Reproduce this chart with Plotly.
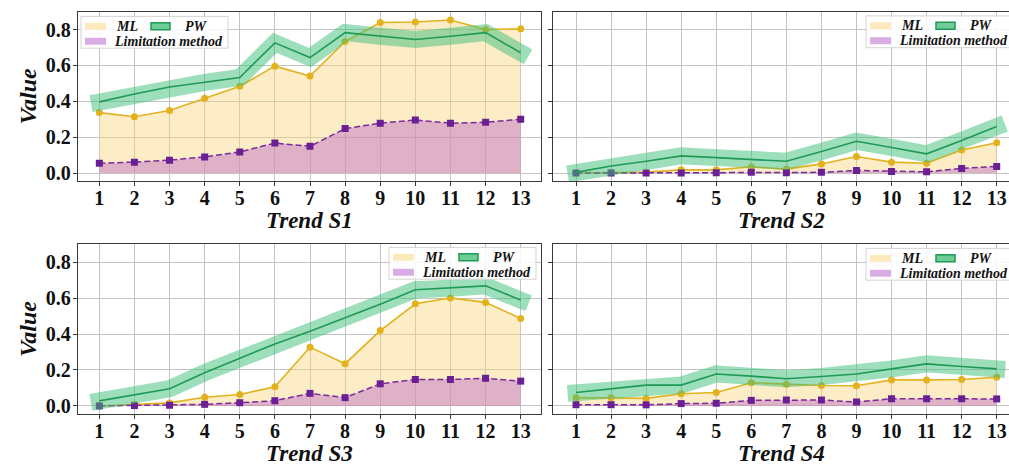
import math
import plotly.graph_objects as go

# ---------------- data ----------------
steps = list(range(1, 14))

ml_s1 = [0.337, 0.314, 0.349, 0.417, 0.484, 0.596, 0.541, 0.734, 0.839, 0.842, 0.853, 0.800, 0.804]
pw_s1 = [0.397, 0.441, 0.480, 0.506, 0.533, 0.726, 0.644, 0.783, 0.763, 0.745, 0.763, 0.783, 0.671]
lim_s1 = [0.055, 0.061, 0.072, 0.090, 0.118, 0.167, 0.149, 0.248, 0.278, 0.296, 0.278, 0.283, 0.300]

ml_s2 = [0.000, 0.002, 0.005, 0.018, 0.018, 0.035, 0.022, 0.051, 0.092, 0.061, 0.055, 0.129, 0.169]
pw_s2 = [0.004, 0.039, 0.066, 0.096, 0.086, 0.077, 0.066, 0.120, 0.177, 0.143, 0.107, 0.182, 0.259]
lim_s2 = [0.000, 0.000, 0.000, 0.000, 0.002, 0.004, 0.002, 0.004, 0.015, 0.009, 0.007, 0.026, 0.037]

ml_s3 = [0.000, 0.009, 0.017, 0.048, 0.064, 0.107, 0.327, 0.235, 0.419, 0.568, 0.601, 0.576, 0.487]
pw_s3 = [0.028, 0.061, 0.096, 0.185, 0.265, 0.345, 0.415, 0.489, 0.566, 0.646, 0.655, 0.668, 0.589]
lim_s3 = [0.000, 0.002, 0.004, 0.009, 0.018, 0.029, 0.070, 0.046, 0.123, 0.147, 0.147, 0.154, 0.138]

ml_s4 = [0.046, 0.046, 0.042, 0.068, 0.075, 0.129, 0.121, 0.114, 0.112, 0.145, 0.145, 0.147, 0.160]
pw_s4 = [0.075, 0.096, 0.116, 0.116, 0.178, 0.166, 0.151, 0.164, 0.178, 0.206, 0.234, 0.219, 0.206]
lim_s4 = [0.007, 0.007, 0.006, 0.013, 0.015, 0.031, 0.033, 0.033, 0.022, 0.040, 0.040, 0.040, 0.039]

titles = ["Trend S1", "Trend S2", "Trend S3", "Trend S4"]
y_ticks = [0.0, 0.2, 0.4, 0.6, 0.8]
y_ticktext = ["0.0", "0.2", "0.4", "0.6", "0.8"]
legend_labels = ["ML", "PW", "Limitation method"]

# ---------------- style / layout ----------------
VIEW_W = 1009
OFF = 0                      # page body margin (removed by post_script)
FW, FH = 1022, 469           # figure size; right edge is cropped by the window
SERIF = "Liberation Serif"
ML_LINE = "#e2b21e"
ML_FILL = "rgba(247,212,120,0.42)"
LIM_LINE = "#7a2a9c"
LIM_MARK = "#6b1f94"
LIM_FILL = "rgba(190,110,200,0.48)"
PW_LINE = "#1f9a55"
PW_BAND = "rgba(60,190,120,0.50)"
GRID = "#c4c4c4"
FRAME = "#3a3a3a"
BAND_W = 17

# panel frames in page pixels: (left, top, right, bottom)
panels = [
    (78, 11.7, 541, 182.3),
    (553, 11.7, 1016, 182.3),
    (78, 245.7, 541, 416.7),
    (553, 245.7, 1016, 416.7),
]
x_ranges = [[0.393, 13.578], [0.344, 13.55], [0.393, 13.578], [0.344, 13.55]]
y_range = [-0.045, 0.9]
series = [(ml_s1, pw_s1, lim_s1), (ml_s2, pw_s2, lim_s2),
          (ml_s3, pw_s3, lim_s3), (ml_s4, pw_s4, lim_s4)]
legend_boxes = [(81, 16.5), (866, 16), (389, 249), (866, 250)]


def px(x):
    return (x - OFF) / FW


def py(y):
    return 1 - (y - OFF) / FH


def band_ends(xs, ys, xr, yr, frame, half):
    """Extend the thick band by half its width along the end segments (projecting caps)."""
    l, t, r, b = frame
    sx = (r - l) / (xr[1] - xr[0])
    sy = (b - t) / (yr[1] - yr[0])

    def ext(x0, y0, x1, y1):
        dx = (x0 - x1) * sx
        dy = (y0 - y1) * sy
        ln = math.hypot(dx, dy)
        return x0 + half * dx / ln / sx, y0 + half * dy / ln / sy

    xa, ya = ext(xs[0], ys[0], xs[1], ys[1])
    xb, yb = ext(xs[-1], ys[-1], xs[-2], ys[-2])
    return [xa] + list(xs) + [xb], [ya] + list(ys) + [yb]


fig = go.Figure()
layout = dict(
    width=FW, height=FH,
    margin=dict(l=0, r=0, t=0, b=0),
    paper_bgcolor="white", plot_bgcolor="white",
    showlegend=False,
)
shapes = []
annotations = []
tickfont = dict(family=SERIF, size=20, color="#111", weight="bold")

for i, (frame, xr, (ml, pw, lim)) in enumerate(zip(panels, x_ranges, series)):
    n = "" if i == 0 else str(i + 1)
    xa, ya = "x" + n, "y" + n
    l, t, r, b = frame
    right_col = i in (1, 3)

    layout["xaxis" + n] = dict(
        domain=[px(l), px(r)], anchor=ya, range=xr,
        tickmode="array", tickvals=steps, ticktext=[str(s) for s in steps],
        showgrid=True, gridcolor=GRID, gridwidth=1, zeroline=False,
        showline=True, linecolor=FRAME, linewidth=1.3, mirror=True,
        ticks="outside", ticklen=4, tickcolor=FRAME,
        ticklabelstandoff=-5,
        tickfont=tickfont,
    )
    layout["yaxis" + n] = dict(
        domain=[py(b), py(t)], anchor=xa, range=y_range,
        tickmode="array", tickvals=y_ticks, ticktext=y_ticktext,
        showticklabels=not right_col,
        showgrid=True, gridcolor=GRID, gridwidth=1, zeroline=False,
        showline=True, linecolor=FRAME, linewidth=1.3, mirror=True,
        ticks="outside", ticklen=4, tickcolor=FRAME,
        ticklabelstandoff=-2,
        tickfont=tickfont,
    )

    # ML area
    fig.add_trace(go.Scatter(
        x=steps, y=ml, xaxis=xa, yaxis=ya, mode="lines+markers",
        fill="tozeroy", fillcolor=ML_FILL,
        line=dict(color=ML_LINE, width=1.6),
        marker=dict(symbol="circle", size=7, color=ML_LINE),
        name=legend_labels[0],
    ))
    # Limitation method area
    fig.add_trace(go.Scatter(
        x=steps, y=lim, xaxis=xa, yaxis=ya, mode="lines+markers",
        fill="tozeroy", fillcolor=LIM_FILL,
        line=dict(color=LIM_LINE, width=1.5, dash="6px,3px"),
        marker=dict(symbol="square", size=7, color=LIM_MARK),
        name=legend_labels[2],
    ))
    # PW band (thick translucent line) and centre line
    bx, by = band_ends(steps, pw, xr, y_range, frame, BAND_W / 2)
    fig.add_trace(go.Scatter(
        x=bx, y=by, xaxis=xa, yaxis=ya, mode="lines",
        line=dict(color=PW_BAND, width=BAND_W),
        hoverinfo="skip", name=legend_labels[1],
    ))
    fig.add_trace(go.Scatter(
        x=steps, y=pw, xaxis=xa, yaxis=ya, mode="lines",
        line=dict(color=PW_LINE, width=1.6), name=legend_labels[1],
    ))

    # axis titles
    annotations.append(dict(
        text=titles[i], xref="paper", yref="paper",
        x=px((l + min(r, VIEW_W)) / 2), y=py(b + 40), xanchor="center", yanchor="middle",
        showarrow=False,
        font=dict(family=SERIF, size=23, color="#111", weight="bold", style="italic"),
    ))
    if not right_col:
        annotations.append(dict(
            text="Value", xref="paper", yref="paper",
            x=px(28), y=py((t + b) / 2), xanchor="center", yanchor="middle",
            textangle=-90, showarrow=False,
            font=dict(family=SERIF, size=24, color="#111", weight="bold", style="italic"),
        ))

    # legend box
    lx, ly = legend_boxes[i]
    lw, lh = 147, 32
    shapes.append(dict(type="rect", xref="paper", yref="paper",
                       x0=px(lx), x1=px(lx + lw), y0=py(ly + lh), y1=py(ly),
                       fillcolor="rgba(255,255,255,0.85)", line=dict(color="#d4d4d4", width=1),
                       layer="above"))
    sw = [
        (lx + 4, lx + 25, ly + 6.5, ly + 13.5, "rgb(251,234,188)", None),
        (lx + 70, lx + 89, ly + 6.5, ly + 13.5, "rgb(110,205,150)", PW_LINE),
        (lx + 4, lx + 25, ly + 21.5, ly + 28.5, "rgb(218,172,228)", None),
    ]
    for x0, x1, y0, y1, fc, lc in sw:
        shapes.append(dict(type="rect", xref="paper", yref="paper",
                           x0=px(x0), x1=px(x1), y0=py(y1), y1=py(y0),
                           fillcolor=fc,
                           line=dict(color=lc if lc else fc, width=1.5 if lc else 0),
                           layer="above"))
    for txt, tx, tyy in [(legend_labels[0], lx + 33, ly + 10),
                         (legend_labels[1], lx + 102, ly + 10),
                         (legend_labels[2], lx + 31, ly + 25)]:
        annotations.append(dict(
            text=txt, xref="paper", yref="paper", x=px(tx), y=py(tyy),
            xanchor="left", yanchor="middle", showarrow=False,
            font=dict(family=SERIF, size=14, color="#111", weight="bold", style="italic"),
        ))

layout["shapes"] = shapes
layout["annotations"] = annotations
fig.update_layout(**layout)
fig.write_html(
    "out.html",
    config={"displayModeBar": False},
    post_script="document.body.style.margin='0';"
                "document.documentElement.style.overflow='hidden';"
                "document.body.style.overflow='hidden';",
)
